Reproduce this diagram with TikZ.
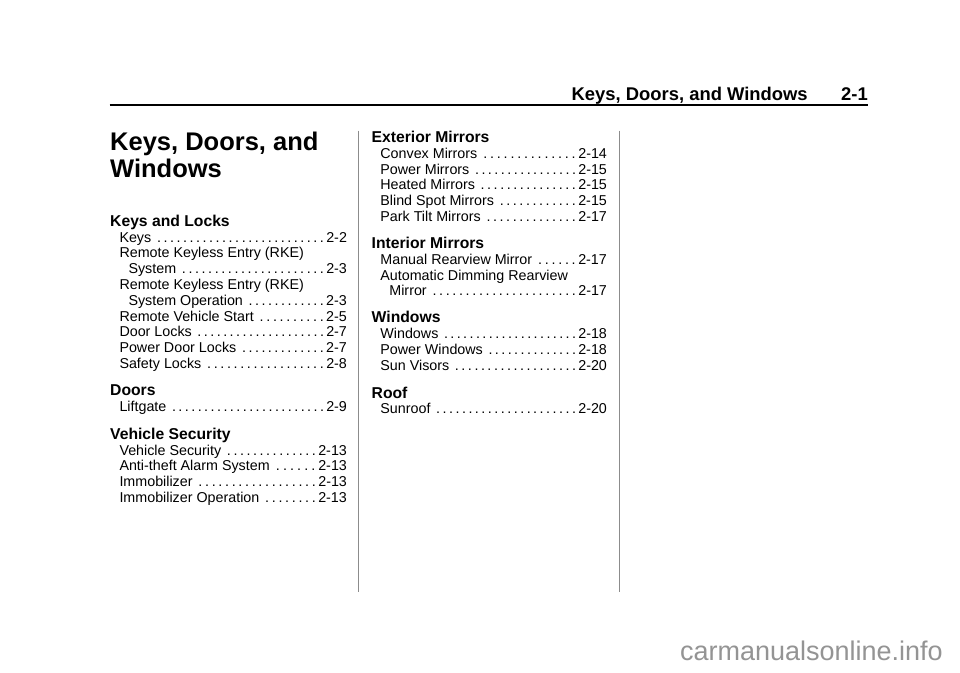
\documentclass[tikz,border=0pt]{standalone}
\usepackage{fontspec}
\setmainfont{Liberation Sans}
\newcommand\tocln[3]{\hbox to #1{#2\hspace{4.4pt}\xleaders\hbox to 6.4pt{\hss.\hss}\hfill\hspace{1pt}#3}}
\begin{document}
\begin{tikzpicture}[x=1pt,y=-1pt,
  entry/.style={anchor=base west, inner sep=0pt, font=\fontsize{14.3}{16}\selectfont},
  head/.style={anchor=base west, inner sep=0pt, font=\fontsize{15.7}{18}\selectfont\bfseries},
  title/.style={anchor=base west, inner sep=0pt, font=\fontsize{25.5}{27}\selectfont\bfseries},
  runhead/.style={inner sep=0pt, font=\fontsize{18.4}{20}\selectfont\bfseries},
  colrule/.style={draw=black!45, line width=1pt},
  toprule/.style={draw=black, line width=2.5pt},
  wmark/.style={anchor=base east, inner sep=0pt, text=black!42, font=\fontsize{27}{30}\selectfont}]
\useasboundingbox[fill=white] (0,0) rectangle (960,672);
% running head
\node[runhead, anchor=base west] (rh) at (571.5,100) {Keys, Doors, and Windows};
\node[runhead, anchor=base east] (pg) at (868,100) {2-1};
\coordinate (rl) at (109.5,105);
\coordinate (rr) at (868,105);
\draw[toprule] (rl) -- (rr);
% column rules
\coordinate (c1t) at (358.3,130.5);
\coordinate (c1b) at (358.3,592);
\coordinate (c2t) at (619.3,130.5);
\coordinate (c2b) at (619.3,592);
\draw[colrule] (c1t) -- (c1b);
\draw[colrule] (c2t) -- (c2b);
% title
\node[title] (t1) at (110,150) {Keys, Doors, and};
\node[title] (t2) at (110,177.3) {Windows};
% left column
\node[head] (h1) at (110,226) {Keys and Locks};
\node[entry] (e1) at (119.3,242) {\tocln{227.4pt}{Keys}{2-2}};
\node[entry] (e2) at (119.3,257.8) {Remote Keyless Entry (RKE)};
\node[entry] (e3) at (128.3,273.6) {\tocln{218.4pt}{System}{2-3}};
\node[entry] (e4) at (119.3,289.4) {Remote Keyless Entry (RKE)};
\node[entry] (e5) at (128.3,305.3) {\tocln{218.4pt}{System Operation}{2-3}};
\node[entry] (e6) at (119.3,321.1) {\tocln{227.4pt}{Remote Vehicle Start}{2-5}};
\node[entry] (e7) at (119.3,336.9) {\tocln{227.4pt}{Door Locks}{2-7}};
\node[entry] (e8) at (119.3,352.7) {\tocln{227.4pt}{Power Door Locks}{2-7}};
\node[entry] (e9) at (119.3,368.5) {\tocln{227.4pt}{Safety Locks}{2-8}};
\node[head] (h2) at (110,395.9) {Doors};
\node[entry] (e10) at (119.3,411.7) {\tocln{227.4pt}{Liftgate}{2-9}};
\node[head] (h3) at (110,439.2) {Vehicle Security};
\node[entry] (e11) at (119.3,455) {\tocln{227.4pt}{Vehicle Security}{2-13}};
\node[entry] (e12) at (119.3,470.9) {\tocln{227.4pt}{Anti-theft Alarm System}{2-13}};
\node[entry] (e13) at (119.3,486.8) {\tocln{227.4pt}{Immobilizer}{2-13}};
\node[entry] (e14) at (119.3,502.7) {\tocln{227.4pt}{Immobilizer Operation}{2-13}};
% middle column
\node[head] (h4) at (371.5,142.7) {Exterior Mirrors};
\node[entry] (m1) at (380.2,158.4) {\tocln{226.5pt}{Convex Mirrors}{2-14}};
\node[entry] (m2) at (380.2,174.1) {\tocln{226.5pt}{Power Mirrors}{2-15}};
\node[entry] (m3) at (380.2,189.8) {\tocln{226.5pt}{Heated Mirrors}{2-15}};
\node[entry] (m4) at (380.2,205.5) {\tocln{226.5pt}{Blind Spot Mirrors}{2-15}};
\node[entry] (m5) at (380.2,221.2) {\tocln{226.5pt}{Park Tilt Mirrors}{2-17}};
\node[head] (h5) at (371.5,248.5) {Interior Mirrors};
\node[entry] (m6) at (380.2,264.3) {\tocln{226.5pt}{Manual Rearview Mirror}{2-17}};
\node[entry] (m7) at (380.2,280) {Automatic Dimming Rearview};
\node[entry] (m8) at (389.2,295.7) {\tocln{217.5pt}{Mirror}{2-17}};
\node[head] (h6) at (371.5,322.8) {Windows};
\node[entry] (m9) at (380.2,338.5) {\tocln{226.5pt}{Windows}{2-18}};
\node[entry] (m10) at (380.2,354.6) {\tocln{226.5pt}{Power Windows}{2-18}};
\node[entry] (m11) at (380.2,370.6) {\tocln{226.5pt}{Sun Visors}{2-20}};
\node[head] (h7) at (371.5,398.3) {Roof};
\node[entry] (m12) at (380.2,413.6) {\tocln{226.5pt}{Sunroof}{2-20}};
% watermark
\node[wmark] (wm) at (943,660) {carmanualsonline.info};
\end{tikzpicture}
\end{document}
